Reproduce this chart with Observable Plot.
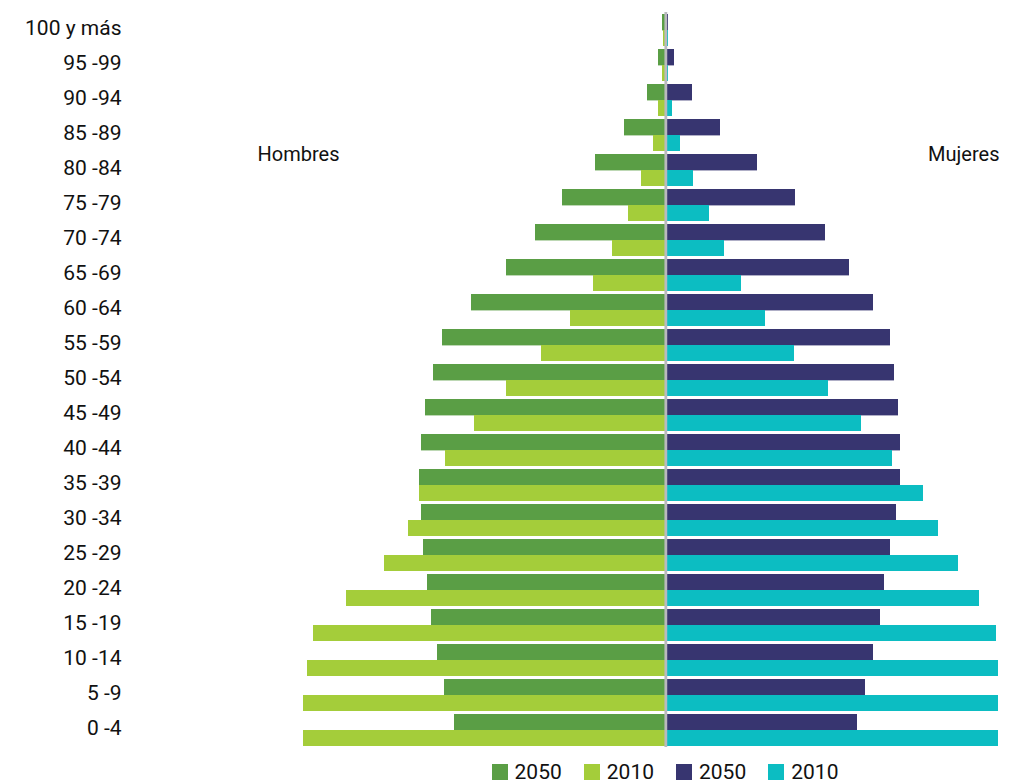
<!DOCTYPE html>
<html>
<head>
<meta charset="utf-8">
<script src="https://cdn.jsdelivr.net/npm/d3@7"></script>
<script src="https://cdn.jsdelivr.net/npm/@observablehq/plot@0.6"></script>
<style>
  html, body { margin: 0; padding: 0; background: #fff; }
  body { width: 1016px; height: 782px; overflow: hidden; font-family: Roboto, "Noto Sans", sans-serif; }
  #chart svg { display: block; }
  .legend { display: flex; align-items: center; justify-content: center; box-sizing: border-box;
            width: 1016px; height: 30px; padding-left: 314px; padding-top: 10px;
            font: 21px Roboto, sans-serif; color: #111; }
  .legend .item { display: flex; align-items: center; margin: 0 11px; }
  .legend .sw { width: 16px; height: 16px; margin-right: 7px; }
</style>
</head>
<body>
<div id="chart"></div>
<div class="legend" id="legend"></div>
<script>
// Age groups, top to bottom
const ages = ["100 y más","95 -99","90 -94","85 -89","80 -84","75 -79","70 -74","65 -69","60 -64","55 -59",
  "50 -54","45 -49","40 -44","35 -39","30 -34","25 -29","20 -24","15 -19","10 -14","5 -9","0 -4"];

// Population (miles), same order as ages
const hombres2050 = [50,110,275,620,1055,1550,1955,2390,2915,3350,3485,3605,3665,3695,3665,3635,3575,3515,3425,3320,3170];
const hombres2010 = [35,50,110,185,365,560,800,1085,1430,1865,2390,2870,3305,3695,3860,4220,4790,5285,5375,5435,5435];
const mujeres2050 = [40,130,400,820,1375,1945,2395,2755,3115,3370,3430,3490,3520,3520,3460,3370,3280,3220,3115,2995,2875];
const mujeres2010 = [40,40,100,220,415,655,880,1135,1495,1930,2440,2935,3400,3865,4090,4390,4705,4960,5160,5220,5205];

const series = [
  {key: "H2050", label: "2050", values: hombres2050, side: -1, year: 2050, color: "#5a9e45"},
  {key: "H2010", label: "2010", values: hombres2010, side: -1, year: 2010, color: "#a4cd3a"},
  {key: "M2050", label: "2050", values: mujeres2050, side: 1, year: 2050, color: "#373570"},
  {key: "M2010", label: "2010", values: mujeres2010, side: 1, year: 2010, color: "#0cbdc2"}
];

const barMarks = series.map(s => {
  const rows = ages.map((a, i) => ({age: a, value: s.values[i]}));
  const inset = s.year === 2050 ? {insetBottom: 15.6} : {insetTop: 16};
  return Plot.barX(rows, {
    y: "age",
    x1: d => s.side < 0 ? -d.value : 0,
    x2: d => s.side < 0 ? 0 : d.value,
    fill: s.color,
    clip: true,
    ...inset
  });
});

const chart = Plot.plot({
  width: 1016,
  height: 752,
  marginTop: 12,
  marginBottom: 5,
  marginLeft: 130,
  marginRight: 18,
  style: {fontFamily: "Roboto, sans-serif", fontSize: "21px", color: "#111", background: "#fff"},
  x: {domain: [-8030, 4990], axis: null},
  y: {domain: ages, paddingInner: 0.1, paddingOuter: 0, axis: null},
  marks: [
    ...barMarks,
    Plot.ruleX([0], {stroke: "#b9b9bd", strokeWidth: 2.8}),
    Plot.axisY({anchor: "left", tickSize: 0, tickPadding: 9, fontSize: 21, label: null, dy: -2, fill: "#111"}),
    Plot.text(["Hombres"], {x: -6125, y: () => "80 -84", dy: -16, textAnchor: "start", fontSize: 20, fill: "#111"}),
    Plot.text(["Mujeres"], {frameAnchor: "right", y: () => "80 -84", dx: 1, dy: -16, textAnchor: "end", fontSize: 20, fill: "#111"})
  ]
});
document.getElementById("chart").appendChild(chart);

const legend = document.getElementById("legend");
for (const s of series) {
  const item = document.createElement("div");
  item.className = "item";
  const sw = document.createElement("span");
  sw.className = "sw";
  sw.style.background = s.color;
  const t = document.createElement("span");
  t.textContent = s.label;
  item.appendChild(sw);
  item.appendChild(t);
  legend.appendChild(item);
}
</script>
</body>
</html>
